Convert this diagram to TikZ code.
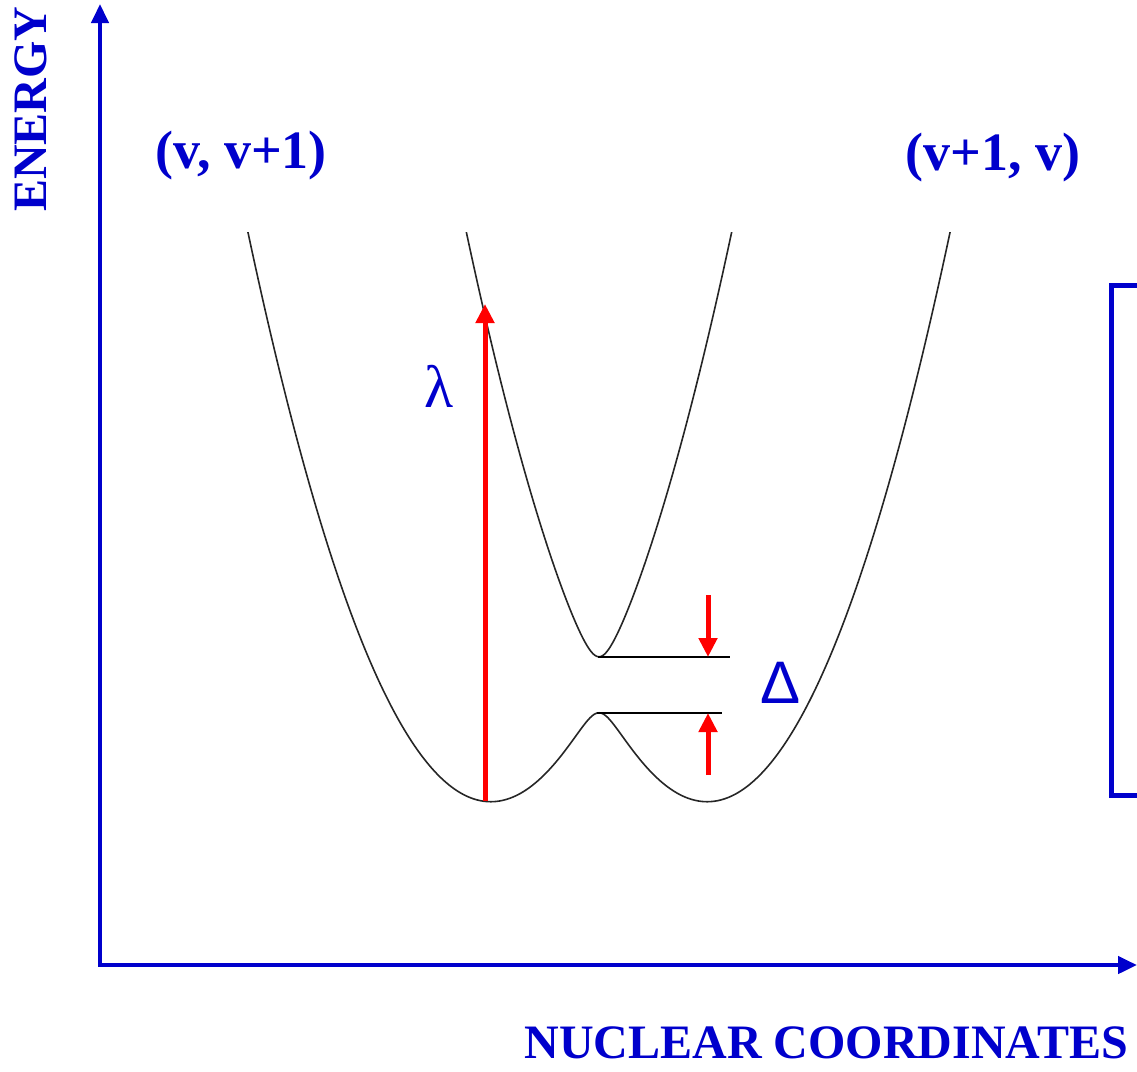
\documentclass[tikz,border=0pt]{standalone}
\usepackage{fontspec}
\setmainfont{Liberation Serif}
\newfontfamily\greeksans{Liberation Sans}
\usetikzlibrary{arrows.meta}
\definecolor{axisblue}{RGB}{0,0,204}
\definecolor{arrred}{RGB}{255,0,0}
\tikzset{
  axisline/.style={draw=axisblue, line width=4.5pt, arrows={Triangle[width=17pt,length=19pt]-Triangle[width=17pt,length=19pt]}},
  bracketline/.style={draw=axisblue, line width=5pt},
  redarrow/.style={draw=arrred, line width=5pt, -{Triangle[width=18pt,length=19pt]}},
  curve/.style={draw=black!85, line width=1.6pt},
  level/.style={draw=black, line width=2pt},
  biglabel/.style={text=axisblue, font=\fontsize{54}{60}\selectfont\bfseries, inner sep=0pt},
  axislabel/.style={text=axisblue, font=\fontsize{48}{56}\selectfont\bfseries, inner sep=0pt},
  declare function={
    Ea(\u)=0.97*(\u-4.9)*(\u-4.9);
    Eb(\u)=0.97*(\u-7.08)*(\u-7.08);
    Em(\u)=(Ea(\u)+Eb(\u))/2;
    Eh(\u)=(Ea(\u)-Eb(\u))/2;
    Elo(\u)=Em(\u)-sqrt(Eh(\u)*Eh(\u)+0.0784);
    Ehi(\u)=Em(\u)+sqrt(Eh(\u)*Eh(\u)+0.0784);
  }
}
\begin{document}
\begin{tikzpicture}[x=1pt,y=-1pt]
\useasboundingbox (0,0) rectangle (1137,1071);
% axes
\coordinate (ytop) at (100,4);
\coordinate (origin) at (100,965);
\coordinate (xend) at (1137,965);
\draw[axisline] (ytop) -- (origin) -- (xend);
\node[axislabel, rotate=90, anchor=base west] (energy) at (46,212) {ENERGY};
\node[axislabel, anchor=base east] (nuc) at (1128,1058) {NUCLEAR COORDINATES};
% state labels
\node[biglabel, anchor=base] (lab1) at (241,168) {(v, v+1)};
\node[biglabel, anchor=base] (lab2) at (993,170) {(v+1, v)};
% curves
\begin{scope}
\clip (0,232) rectangle (1137,1071);
\draw[curve] plot[domain=240:960, samples=400, smooth] (\x, {800-100*Elo(\x/100)});
\draw[curve] plot[domain=455:745, samples=300, smooth] (\x, {800-100*Ehi(\x/100)});
\end{scope}
% levels
\coordinate (upA) at (598,657);
\coordinate (upB) at (730,657);
\coordinate (loA) at (597,713);
\coordinate (loB) at (722,713);
\draw[level] (upA) -- (upB);
\draw[level] (loA) -- (loB);
% arrows
\coordinate (lamS) at (485,801);
\coordinate (lamE) at (485,304);
\draw[redarrow] (lamS) -- (lamE);
\coordinate (dnS) at (708,595);
\coordinate (dnE) at (708,657);
\draw[redarrow] (dnS) -- (dnE);
\coordinate (upS) at (708,775);
\coordinate (upE) at (708,713);
\draw[redarrow] (upS) -- (upE);
\node[text=axisblue, font=\fontsize{60}{66}\selectfont, inner sep=0pt, anchor=base] (lam) at (439,407) {λ};
\node[text=axisblue, font=\fontsize{60}{66}\selectfont\greeksans, inner sep=0pt, anchor=base] (delta) at (781,703) {Δ};
% bracket
\coordinate (brA) at (1140,285);
\coordinate (brB) at (1111,285);
\coordinate (brC) at (1111,795);
\coordinate (brD) at (1140,795);
\draw[bracketline] (brA) -- (brB) -- (brC) -- (brD);
\end{tikzpicture}
\end{document}
